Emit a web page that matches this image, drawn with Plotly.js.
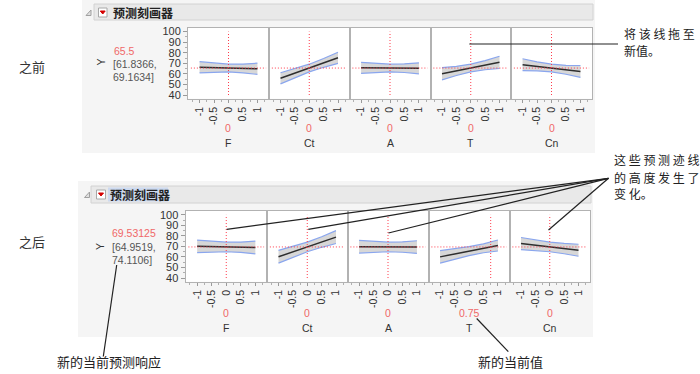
<!DOCTYPE html>
<html><head><meta charset="utf-8">
<script src="https://cdn.plot.ly/plotly-3.0.1.min.js"></script>
<style>html,body{margin:0;padding:0;background:#fff}#chart{width:700px;height:374px}</style>
</head><body><div id="chart"></div>
<script>
// ---------- data ----------
const factors = ['F', 'Ct', 'A', 'T', 'Cn'];
const xGrid = [-1, -0.5, 0, 0.5, 1];
const xTickVals = [-1, -0.5, 0, 0.5, 1];
const xTickText = ['-1', '-0.5', '0', '0.5', '1'];
const yTickVals = [40, 50, 60, 70, 80, 90, 100];

const currentBefore = [0, 0, 0, 0, 0];
const currentBeforeText = ['0', '0', '0', '0', '0'];
const yBefore = 65.5;
const yBeforeText = ['65.5', '[61.8366,', '69.1634]'];

const currentAfter = [0, 0, 0, 0.75, 0];
const currentAfterText = ['0', '0', '0', '0.75', '0'];
const yAfter = 69.53125;
const yAfterText = ['69.53125', '[64.9519,', '74.1106]'];

// predicted response along each factor (before)
const predBefore = [
  [66.2, 65.85, 65.5, 65.15, 64.8],
  [55.8, 60.65, 65.5, 70.35, 75.2],
  [65.75, 65.6, 65.5, 65.4, 65.25],
  [60.1, 62.8, 65.5, 68.2, 70.9],
  [68.7, 67.1, 65.5, 63.9, 62.3]
];
// confidence half-widths (before)
const halfBefore = [
  [5.3, 4.13, 3.66, 4.13, 5.3],
  [5.3, 4.13, 3.66, 4.13, 5.3],
  [5.2, 4.1, 3.66, 4.1, 5.2],
  [5.8, 4.3, 3.66, 4.3, 5.8],
  [5.6, 4.23, 3.66, 4.23, 5.6]
];
// predicted response along each factor (after)
const predAfter = [
  [70.1, 69.8, 69.53, 69.25, 69.0],
  [60.2, 64.85, 69.53, 74.2, 78.9],
  [69.7, 69.6, 69.53, 69.45, 69.4],
  [60.1, 62.8, 65.5, 68.2, 70.9],
  [72.7, 71.1, 69.53, 67.95, 66.4]
];
const halfAfter = [
  [6.0, 4.95, 4.58, 4.95, 6.0],
  [6.1, 5.0, 4.58, 5.0, 6.1],
  [6.0, 4.95, 4.58, 4.95, 6.0],
  [5.9, 4.9, 4.3, 4.2, 5.2],
  [5.8, 4.9, 4.58, 4.9, 5.7]
];

// ---------- layout helpers ----------
const W = 700, H = 374;
const fx = p => p / W;
const fy = p => 1 - p / H;
const LAT = 'Liberation Sans, Arial, sans-serif';
const CJK = 'Noto Sans CJK SC, sans-serif';
const RED = '#f06868';

const rows = [
  {edges: [188, 269, 349.5, 430.5, 511, 592], top: 27.7, bot: 98.7, pred: predBefore, hw: halfBefore,
   cur: currentBefore, curText: currentBeforeText, yCur: yBefore, valY: 128, nameY: 143},
  {edges: [185.5, 267, 347.5, 428.5, 509.5, 590], top: 211, bot: 281.7, pred: predAfter, hw: halfAfter,
   cur: currentAfter, curText: currentAfterText, yCur: yAfter, valY: 313, nameY: 328}
];

const data = [];
const layout = {
  width: W, height: H, margin: {l: 0, r: 0, t: 0, b: 0},
  paper_bgcolor: '#ffffff', plot_bgcolor: 'rgba(0,0,0,0)',
  showlegend: false, shapes: [], annotations: []
};

function rectPx(x0, y0, x1, y1, fill, line, lw) {
  layout.shapes.push({type: 'rect', xref: 'paper', yref: 'paper', layer: 'below',
    x0: fx(x0), x1: fx(x1), y0: fy(y1), y1: fy(y0),
    fillcolor: fill, line: {color: line || fill, width: lw === undefined ? 0 : lw}});
}
function pathPx(pts, fill, line) {
  const d = pts.map((p, i) => (i ? 'L' : 'M') + fx(p[0]) + ',' + fy(p[1])).join(' ') + ' Z';
  layout.shapes.push({type: 'path', xref: 'paper', yref: 'paper', layer: 'above', path: d,
    fillcolor: fill, line: {color: line, width: 1}});
}
function linePx(x0, y0, x1, y1) {
  layout.shapes.push({type: 'line', xref: 'paper', yref: 'paper', layer: 'above',
    x0: fx(x0), y0: fy(y0), x1: fx(x1), y1: fy(y1), line: {color: '#222', width: 1.2}});
}
function text(t, x, y, opts) {
  const o = opts || {};
  layout.annotations.push({text: t, xref: 'paper', yref: 'paper', x: fx(x), y: fy(y),
    xanchor: o.xa || 'left', yanchor: 'middle', showarrow: false, textangle: o.angle || 0,
    font: {family: o.family || LAT, size: o.size || 10, color: o.color || '#333'}});
}

// gray panels
rectPx(82, 0, 595, 153, '#f5f5f5');
rectPx(78, 181, 593, 337, '#f5f5f5');
// header bars
rectPx(94, 4, 593, 20, '#e9e9e9', '#d2d2d2', 1);
rectPx(91, 186, 591, 203, '#e9e9e9', '#d2d2d2', 1);
// selection highlight behind the lower title
rectPx(108, 187.5, 168, 201.5, '#cddaf0');
// white plot areas
rows.forEach(r => rectPx(r.edges[0], r.top, r.edges[5], r.bot, '#ffffff'));

// header icons
pathPx([[86, 15.5], [91, 15.5], [91, 10]], '#e0e0e0', '#a0a0a0');
layout.shapes.push({type: 'rect', xref: 'paper', yref: 'paper', layer: 'above',
  x0: fx(98.5), x1: fx(107), y0: fy(17), y1: fy(8), fillcolor: '#ffffff', line: {color: '#a8a8a8', width: 1}});
pathPx([[100.3, 11], [105.2, 11], [102.75, 14]], '#d40000', '#d40000');
pathPx([[84.5, 197.5], [89.5, 197.5], [89.5, 192]], '#e0e0e0', '#a0a0a0');
layout.shapes.push({type: 'rect', xref: 'paper', yref: 'paper', layer: 'above',
  x0: fx(96.5), x1: fx(105.5), y0: fy(199), y1: fy(190), fillcolor: '#ffffff', line: {color: '#a8a8a8', width: 1}});
pathPx([[98.5, 193], [103.5, 193], [101, 196]], '#d40000', '#d40000');

text('<b>预测刻画器</b>', 110.5, 12.3, {family: CJK, size: 12, color: '#222'});
text('<b>预测刻画器</b>', 108, 194.5, {family: CJK, size: 12, color: '#222'});

// ---------- subplots ----------
rows.forEach((r, ri) => {
  factors.forEach((f, i) => {
    const n = ri * 5 + i + 1;
    const xs = n === 1 ? '' : String(n);
    const xa = 'x' + xs, ya = 'y' + xs;
    const lo = r.pred[i].map((v, k) => v - r.hw[i][k]);
    const hi = r.pred[i].map((v, k) => v + r.hw[i][k]);
    data.push({type: 'scatter', mode: 'lines', x: xGrid, y: lo, xaxis: xa, yaxis: ya,
      line: {color: '#8aa6ee', width: 1.2}, hoverinfo: 'skip'});
    data.push({type: 'scatter', mode: 'lines', x: xGrid, y: hi, xaxis: xa, yaxis: ya,
      fill: 'tonexty', fillcolor: 'rgba(150,150,150,0.38)',
      line: {color: '#8aa6ee', width: 1.2}, hoverinfo: 'skip'});
    data.push({type: 'scatter', mode: 'lines', x: xGrid, y: r.pred[i], xaxis: xa, yaxis: ya,
      line: {color: '#2e2e2e', width: 1.5}, hoverinfo: 'skip'});

    layout['xaxis' + xs] = {
      domain: [fx(r.edges[i]), fx(r.edges[i + 1])], range: [-1.4, 1.4], anchor: ya,
      showline: true, mirror: true, linecolor: '#b2b2b2', linewidth: 1,
      showgrid: false, zeroline: false, fixedrange: true,
      tickmode: 'array', tickvals: xTickVals, ticktext: xTickText, tickangle: -90,
      ticks: 'outside', ticklen: 3, tickcolor: '#9a9a9a',
      tickfont: {family: LAT, size: 10.5, color: '#333'},
      minor: {tickvals: [-1.25, -0.75, -0.25, 0.25, 0.75, 1.25], ticks: 'outside', ticklen: 2, tickcolor: '#b0b0b0'}
    };
    const yax = {
      domain: [fy(r.bot), fy(r.top)], range: [36.5, 103.7], anchor: xa,
      showline: true, mirror: true, linecolor: '#b2b2b2', linewidth: 1,
      showgrid: false, zeroline: false, fixedrange: true
    };
    if (i === 0) {
      Object.assign(yax, {tickmode: 'array', tickvals: yTickVals, ticks: 'outside', ticklen: 4,
        tickcolor: '#9a9a9a', tickfont: {family: LAT, size: 11, color: '#333'},
        minor: {tickvals: [45, 55, 65, 75, 85, 95], ticks: 'outside', ticklen: 2, tickcolor: '#b0b0b0'}});
    } else {
      Object.assign(yax, {showticklabels: false, ticks: ''});
    }
    layout['yaxis' + xs] = yax;

    // current-value crosshair
    layout.shapes.push({type: 'line', xref: xa, yref: ya, x0: r.cur[i], x1: r.cur[i], y0: 40, y1: 100,
      line: {color: '#ff3b4b', width: 1, dash: '1px,2px'}});
    layout.shapes.push({type: 'line', xref: xa, yref: ya, x0: -1.3, x1: 1.3, y0: r.yCur, y1: r.yCur,
      line: {color: '#ff3b4b', width: 1, dash: '1px,2px'}});

    const cx = (r.edges[i] + r.edges[i + 1]) / 2;
    text(r.curText[i], cx, r.valY, {xa: 'center', color: RED, size: 10.5});
    text(f, cx, r.nameY, {xa: 'center', color: '#333', size: 10.5});
  });
});

// response readouts
text('之前', 17, 66, {family: CJK, size: 13, color: '#333'});
text('之后', 17, 241, {family: CJK, size: 13, color: '#333'});
text('Y', 100, 62.5, {xa: 'center', angle: -90, size: 10.5});
text('Y', 99.5, 246.5, {xa: 'center', angle: -90, size: 10.5});
text(yBeforeText[0], 111.5, 51, {color: RED, size: 10.5});
text(yBeforeText[1], 111, 64, {color: '#555', size: 10.5});
text(yBeforeText[2], 111, 77, {color: '#555', size: 10.5});
text(yAfterText[0], 109.5, 233, {color: RED, size: 10.5});
text(yAfterText[1], 109.5, 246.5, {color: '#555', size: 10.5});
text(yAfterText[2], 109.5, 260, {color: '#555', size: 10.5});

// callouts
text('将 该 线 拖 至', 622, 33.5, {family: CJK, size: 12, color: '#222'});
text('新值。', 622, 50.5, {family: CJK, size: 12, color: '#222'});
text('这 些 预 测 迹 线', 612, 160, {family: CJK, size: 12, color: '#222'});
text('的 高 度 发 生 了', 612, 177, {family: CJK, size: 12, color: '#222'});
text('变 化。', 612, 193.5, {family: CJK, size: 12, color: '#222'});
text('新的当前预测响应', 55, 361.5, {family: CJK, size: 13, color: '#222'});
text('新的当前值', 476, 361.5, {family: CJK, size: 13, color: '#222'});

linePx(469.3, 44, 618, 44);
linePx(608.5, 178.3, 226.7, 229.3);
linePx(608.5, 178.3, 308.3, 229.3);
linePx(608.5, 178.3, 388.5, 233);
linePx(608.5, 178.3, 548.5, 230);
linePx(116.7, 265, 103.3, 356.5);
linePx(476.7, 318.5, 508.3, 351.7);

Plotly.newPlot('chart', data, layout, {staticPlot: true, displayModeBar: false});
</script>
</body></html>
